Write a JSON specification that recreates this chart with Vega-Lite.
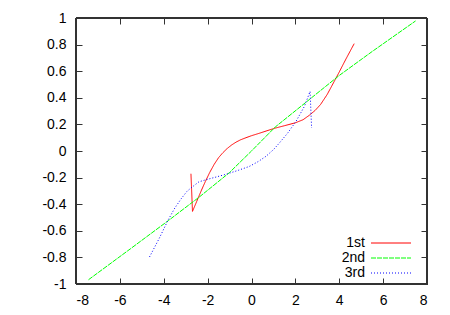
{
  "$schema": "https://vega.github.io/schema/vega-lite/v6.json",
  "width": 351,
  "height": 266,
  "autosize": {"type": "none"},
  "padding": {"left": 76, "top": 18, "right": 23, "bottom": 31},
  "config": {
    "locale": {"number": {"decimal": ".", "thousands": ",", "grouping": [3], "currency": ["", ""], "minus": "-"}},
    "view": {"stroke": "#333333", "strokeWidth": 1},
    "axis": {"grid": false, "domain": true, "domainColor": "#333333", "domainWidth": 1, "tickColor": "#333333", "labelFont": "Liberation Sans", "labelFontSize": 14, "labelColor": "#000000", "title": null, "tickWidth": 1}
  },
  "data": {"values": [
    {"series": "1st", "i": 1, "x": -2.76, "y": -0.171},
    {"series": "1st", "i": 2, "x": -2.69, "y": -0.454},
    {"series": "1st", "i": 3, "x": -2.5, "y": -0.38},
    {"series": "1st", "i": 4, "x": -2.3, "y": -0.302},
    {"series": "1st", "i": 5, "x": -2.1, "y": -0.228},
    {"series": "1st", "i": 6, "x": -1.9, "y": -0.16},
    {"series": "1st", "i": 7, "x": -1.7, "y": -0.1},
    {"series": "1st", "i": 8, "x": -1.5, "y": -0.05},
    {"series": "1st", "i": 9, "x": -1.3, "y": -0.012},
    {"series": "1st", "i": 10, "x": -1.1, "y": 0.02},
    {"series": "1st", "i": 11, "x": -0.9, "y": 0.046},
    {"series": "1st", "i": 12, "x": -0.7, "y": 0.067},
    {"series": "1st", "i": 13, "x": -0.5, "y": 0.084},
    {"series": "1st", "i": 14, "x": -0.25, "y": 0.1},
    {"series": "1st", "i": 15, "x": 0.0, "y": 0.115},
    {"series": "1st", "i": 16, "x": 0.35, "y": 0.133},
    {"series": "1st", "i": 17, "x": 0.7, "y": 0.152},
    {"series": "1st", "i": 18, "x": 1.08, "y": 0.172},
    {"series": "1st", "i": 19, "x": 1.5, "y": 0.19},
    {"series": "1st", "i": 20, "x": 2.0, "y": 0.212},
    {"series": "1st", "i": 21, "x": 2.35, "y": 0.235},
    {"series": "1st", "i": 22, "x": 2.63, "y": 0.268},
    {"series": "1st", "i": 23, "x": 2.9, "y": 0.305},
    {"series": "1st", "i": 24, "x": 3.15, "y": 0.35},
    {"series": "1st", "i": 25, "x": 3.45, "y": 0.425},
    {"series": "1st", "i": 26, "x": 3.77, "y": 0.523},
    {"series": "1st", "i": 27, "x": 4.0, "y": 0.594},
    {"series": "1st", "i": 28, "x": 4.3, "y": 0.69},
    {"series": "1st", "i": 29, "x": 4.68, "y": 0.807},
    {"series": "2nd", "i": 1, "x": -7.43, "y": -0.968},
    {"series": "2nd", "i": 2, "x": -5.5, "y": -0.733},
    {"series": "2nd", "i": 3, "x": -3.78, "y": -0.522},
    {"series": "2nd", "i": 4, "x": -2.38, "y": -0.346},
    {"series": "2nd", "i": 5, "x": -1.01, "y": -0.163},
    {"series": "2nd", "i": 6, "x": 0.0, "y": 0.0},
    {"series": "2nd", "i": 7, "x": 1.08, "y": 0.18},
    {"series": "2nd", "i": 8, "x": 2.63, "y": 0.386},
    {"series": "2nd", "i": 9, "x": 4.0, "y": 0.568},
    {"series": "2nd", "i": 10, "x": 5.5, "y": 0.748},
    {"series": "2nd", "i": 11, "x": 7.48, "y": 0.978},
    {"series": "3rd", "i": 1, "x": -4.65, "y": -0.797},
    {"series": "3rd", "i": 2, "x": -4.2, "y": -0.655},
    {"series": "3rd", "i": 3, "x": -3.82, "y": -0.525},
    {"series": "3rd", "i": 4, "x": -3.5, "y": -0.43},
    {"series": "3rd", "i": 5, "x": -3.21, "y": -0.36},
    {"series": "3rd", "i": 6, "x": -2.95, "y": -0.305},
    {"series": "3rd", "i": 7, "x": -2.76, "y": -0.278},
    {"series": "3rd", "i": 8, "x": -2.4, "y": -0.232},
    {"series": "3rd", "i": 9, "x": -2.07, "y": -0.216},
    {"series": "3rd", "i": 10, "x": -1.6, "y": -0.195},
    {"series": "3rd", "i": 11, "x": -1.16, "y": -0.175},
    {"series": "3rd", "i": 12, "x": -0.6, "y": -0.145},
    {"series": "3rd", "i": 13, "x": -0.1, "y": -0.116},
    {"series": "3rd", "i": 14, "x": 0.3, "y": -0.08},
    {"series": "3rd", "i": 15, "x": 0.66, "y": -0.04},
    {"series": "3rd", "i": 16, "x": 1.0, "y": 0.01},
    {"series": "3rd", "i": 17, "x": 1.27, "y": 0.06},
    {"series": "3rd", "i": 18, "x": 1.65, "y": 0.135},
    {"series": "3rd", "i": 19, "x": 2.03, "y": 0.223},
    {"series": "3rd", "i": 20, "x": 2.41, "y": 0.335},
    {"series": "3rd", "i": 21, "x": 2.67, "y": 0.448},
    {"series": "3rd", "i": 22, "x": 2.74, "y": 0.173}
  ]},
  "layer": [
    {
      "mark": {"type": "rect", "fill": null, "filled": false, "stroke": "#333333", "strokeWidth": 1},
      "encoding": {
        "x": {"datum": -8, "type": "quantitative", "scale": {"domain": [-8, 8], "nice": false, "zero": false},
              "axis": {"orient": "bottom", "values": [-8, -6, -4, -2, 0, 2, 4, 6, 8], "format": "d", "tickSize": -6, "labelPadding": 15}},
        "x2": {"datum": 8},
        "y": {"datum": -1, "type": "quantitative", "scale": {"domain": [-1, 1], "nice": false, "zero": false},
              "axis": {"orient": "left", "values": [-1, -0.8, -0.6, -0.4, -0.2, 0, 0.2, 0.4, 0.6, 0.8, 1], "format": "~g", "tickSize": -6, "labelPadding": 16}},
        "y2": {"datum": 1}
      }
    },
    {
      "mark": {"type": "line", "strokeWidth": 1},
      "encoding": {
        "x": {"field": "x", "type": "quantitative", "axis": {"labelOpacity": 0, "tickOpacity": 0}},
        "y": {"field": "y", "type": "quantitative", "axis": {"labelOpacity": 0, "tickOpacity": 0}},
        "color": {"field": "series", "type": "nominal", "scale": {"domain": ["1st", "2nd", "3rd"], "range": ["#ff0000", "#00ff00", "#0000ff"]},
                  "legend": {"orient": "none", "legendX": 308, "legendY": 218, "title": null, "symbolType": "M-4,0H4", "symbolSize": 100, "symbolStrokeWidth": 1, "labelAlign": "right", "labelOffset": -33, "labelFontSize": 14, "labelFont": "Liberation Sans", "labelColor": "#000000", "rowPadding": 1, "padding": 0}},
        "strokeDash": {"field": "series", "type": "nominal", "scale": {"domain": ["1st", "2nd", "3rd"], "range": [[1, 0], [5, 1], [1, 2]]},
                  "legend": {"orient": "none", "legendX": 308, "legendY": 218, "title": null, "symbolType": "M-4,0H4", "symbolSize": 100, "symbolStrokeWidth": 1, "labelAlign": "right", "labelOffset": -33, "labelFontSize": 14, "labelFont": "Liberation Sans", "labelColor": "#000000", "rowPadding": 1, "padding": 0}},
        "order": {"field": "i", "type": "quantitative"}
      }
    },
    {
      "mark": {"type": "line", "opacity": 0},
      "encoding": {
        "x": {"field": "x", "type": "quantitative",
              "axis": {"orient": "top", "values": [-8, -6, -4, -2, 0, 2, 4, 6, 8], "labels": false, "tickSize": -6}},
        "y": {"field": "y", "type": "quantitative",
              "axis": {"orient": "right", "values": [-1, -0.8, -0.6, -0.4, -0.2, 0, 0.2, 0.4, 0.6, 0.8, 1], "labels": false, "tickSize": -6}},
        "detail": {"field": "series", "type": "nominal"},
        "order": {"field": "i", "type": "quantitative"}
      }
    }
  ],
  "resolve": {"axis": {"x": "independent", "y": "independent"}}
}
